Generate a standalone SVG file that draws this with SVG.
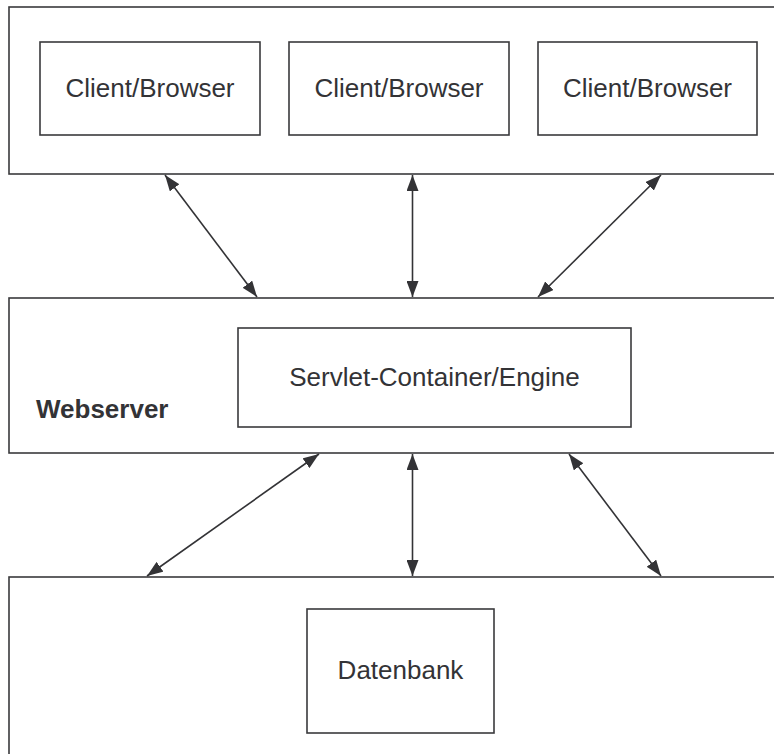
<svg xmlns="http://www.w3.org/2000/svg" width="774" height="754" viewBox="0 0 774 754">
<style>
.box{fill:#fff;stroke:#3a3a3c;stroke-width:1.6}
.lbl{font-family:"Liberation Sans",Arial,sans-serif;font-size:26px;fill:#333336}
.bold{font-family:"Liberation Sans",Arial,sans-serif;font-size:26px;font-weight:bold;fill:#333336}
.con{stroke:#333336;stroke-width:1.6;fill:none;marker-start:url(#ah);marker-end:url(#ah)}
</style>
<defs>
<marker id="ah" viewBox="0 0 16 12" refX="16" refY="6" markerWidth="16" markerHeight="12" markerUnits="userSpaceOnUse" orient="auto-start-reverse">
<path d="M0,0 L16,6 L0,12 z" fill="#333336"/>
</marker>
</defs>
<g id="clients-layer">
<rect class="box" x="9" y="7" width="790" height="167"/>
</g>
<g id="client1">
<rect class="box" x="40" y="42" width="220" height="93"/>
<text class="lbl" x="150" y="97" text-anchor="middle">Client/Browser</text>
</g>
<g id="client2">
<rect class="box" x="289" y="42" width="220" height="93"/>
<text class="lbl" x="399" y="97" text-anchor="middle">Client/Browser</text>
</g>
<g id="client3">
<rect class="box" x="538" y="42" width="219" height="93"/>
<text class="lbl" x="647.5" y="97" text-anchor="middle">Client/Browser</text>
</g>
<g id="webserver">
<rect class="box" x="9" y="298" width="790" height="155"/>
<text class="bold" x="36" y="418">Webserver</text>
</g>
<g id="servlet">
<rect class="box" x="238" y="328" width="393" height="99"/>
<text class="lbl" x="434.5" y="386" text-anchor="middle">Servlet-Container/Engine</text>
</g>
<g id="db-layer">
<rect class="box" x="9" y="577" width="790" height="200"/>
</g>
<g id="datenbank">
<rect class="box" x="307" y="609" width="187" height="124"/>
<text class="lbl" x="400.5" y="679" text-anchor="middle">Datenbank</text>
</g>
<g id="connectors">
<line class="con" x1="165" y1="175" x2="257" y2="297"/>
<line class="con" x1="412.5" y1="175" x2="412.5" y2="297"/>
<line class="con" x1="661" y1="175" x2="538" y2="297"/>
<line class="con" x1="319" y1="454" x2="147" y2="576"/>
<line class="con" x1="412.5" y1="454" x2="412.5" y2="576"/>
<line class="con" x1="569" y1="454" x2="661" y2="576"/>
</g>
</svg>
